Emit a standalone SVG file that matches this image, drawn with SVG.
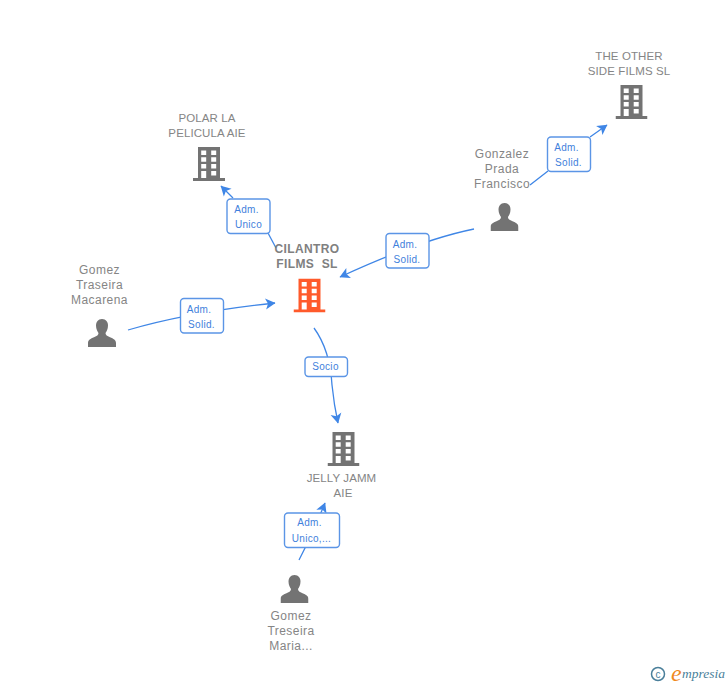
<svg xmlns="http://www.w3.org/2000/svg" width="728" height="685" viewBox="0 0 728 685">
<style>
text{font-family:"Liberation Sans",Arial,sans-serif}
.n{font-size:11.500px;fill:#858585;text-anchor:middle;letter-spacing:.1px}
.m{font-size:12px;fill:#858585;text-anchor:middle;letter-spacing:.45px}
.c{font-size:12px;font-weight:bold;fill:#808080;text-anchor:middle;letter-spacing:.4px}
.e{font-size:10px;fill:#3f7fdc;text-anchor:middle;letter-spacing:.3px}
.b{fill:#fff;stroke:#5b95e6;stroke-width:1.400}
.l{fill:none;stroke:#3f86e6;stroke-width:1.300;marker-end:url(#a)}
.p{fill:none;stroke:#3f86e6;stroke-width:1.300}
</style>
<defs>
<marker id="a" markerUnits="userSpaceOnUse" markerWidth="13" markerHeight="13" viewBox="0 0 13 13" refX="10.500" refY="6.500" orient="auto"><path d="M1 1L11 6.500L1 12L3.500 6.500Z" fill="#3f86e6"/></marker>
<symbol id="bld" viewBox="0 0 32 34" width="32" height="34"><path fill-rule="evenodd" d="M5 0H27V31H32V34H0V31H5ZM8.200 3.500V8H13.200V3.500ZM18.200 3.500V8H23.200V3.500ZM8.200 10.300V14.800H13.200V10.300ZM18.200 10.300V14.800H23.200V10.300ZM8.200 17V21.500H13.200V17ZM18.200 17V21.500H23.200V17ZM8.200 24V31H13.200V24ZM18.200 24V28.500H23.200V24Z"/></symbol>
<symbol id="per" viewBox="0 0 28 28" width="28" height="28"><path d="M14 0C10 0 8 3 8 6.500C8 10 9.500 12.500 10.500 14C10.500 16 9 17 6 18.300C2.500 19.700 0 21 0 24V28H28V24C28 21 25.500 19.700 22 18.300C19 17 17.500 16 17.500 14C18.500 12.500 20 10 20 6.500C20 3 18 0 14 0Z" fill="#737373"/></symbol>
</defs>
<g id="connectors">
<path class="l" d="M233 198L221 186"/>
<path class="p" d="M268 233L276 248"/>
<path class="l" d="M128 330Q190 312 275 303"/>
<path class="l" d="M474 229Q420 240 340 277"/>
<path class="l" d="M530 185L548 171M590 137L607 125"/>
<path class="l" d="M314 328Q330 350 332 385Q334 405 338 423"/>
<path class="l" d="M299 560Q312 535 325 503"/>
</g>
<g id="edge-polar"><rect class="b" x="227" y="199" width="43" height="34.500" rx="3.500"/><text class="e" x="246.500" y="212.500">Adm.</text><text class="e" x="248.500" y="227.500">Unico</text></g>
<g id="edge-macarena"><rect class="b" x="180.500" y="298.500" width="43" height="34.500" rx="3.500"/><text class="e" x="199" y="312.500">Adm.</text><text class="e" x="201.500" y="327.500">Solid.</text></g>
<g id="edge-gonzalez"><rect class="b" x="386" y="233.500" width="43" height="34.500" rx="3.500"/><text class="e" x="405" y="247.500">Adm.</text><text class="e" x="407" y="262.500">Solid.</text></g>
<g id="edge-other"><rect class="b" x="547.500" y="137" width="43" height="34.500" rx="3.500"/><text class="e" x="566.500" y="150.500">Adm.</text><text class="e" x="568.500" y="165.500">Solid.</text></g>
<g id="edge-socio"><rect class="b" x="305" y="357" width="42.500" height="19.500" rx="3.500"/><text class="e" x="325.500" y="370">Socio</text></g>
<g id="edge-maria"><rect class="b" x="284.500" y="513" width="55" height="34.500" rx="3.500"/><text class="e" x="309.500" y="526">Adm.</text><text class="e" x="311.500" y="541.500">Unico,...</text></g>
<g id="cilantro"><use href="#bld" x="293.500" y="278.500" fill="#ff5a2b"/><text class="c" x="307" y="253">CILANTRO</text><text class="c" x="307" y="268">FILMS&#160; SL</text></g>
<g id="polar"><use href="#bld" x="193" y="147" fill="#737373"/><text class="n" x="207" y="122">POLAR LA</text><text class="n" x="207" y="137">PELICULA AIE</text></g>
<g id="other"><use href="#bld" x="615.500" y="85" fill="#737373"/><text class="n" x="629" y="60">THE OTHER</text><text class="n" x="629" y="75">SIDE FILMS SL</text></g>
<g id="jelly"><use href="#bld" x="327.500" y="432" fill="#737373"/><text class="n" x="341.500" y="482">JELLY JAMM</text><text class="n" x="343" y="497">AIE</text></g>
<g id="gonzalez"><use href="#per" x="490.500" y="203"/><text class="m" x="502" y="158">Gonzalez</text><text class="m" x="502" y="173">Prada</text><text class="m" x="502" y="188">Francisco</text></g>
<g id="macarena"><use href="#per" x="88" y="319"/><text class="m" x="99.500" y="274">Gomez</text><text class="m" x="99.500" y="289">Traseira</text><text class="m" x="99.500" y="304">Macarena</text></g>
<g id="maria"><use href="#per" x="280.500" y="575"/><text class="m" x="291" y="620">Gomez</text><text class="m" x="291" y="635">Treseira</text><text class="m" x="291" y="650">Maria...</text></g>
<g id="logo"><circle cx="658" cy="674" r="6.500" fill="none" stroke="#4a7f9a" stroke-width="1.500"/><text x="658" y="677.500" font-size="10" fill="#4a7f9a" text-anchor="middle">c</text><text x="671" y="681" font-size="24" font-style="italic" fill="#f08a1d" style="font-family:'Liberation Serif',serif">e</text><text x="682" y="678" font-size="13.500" font-style="italic" fill="#4a7f9a" style="font-family:'Liberation Serif',serif">mpresia</text></g>
</svg>
